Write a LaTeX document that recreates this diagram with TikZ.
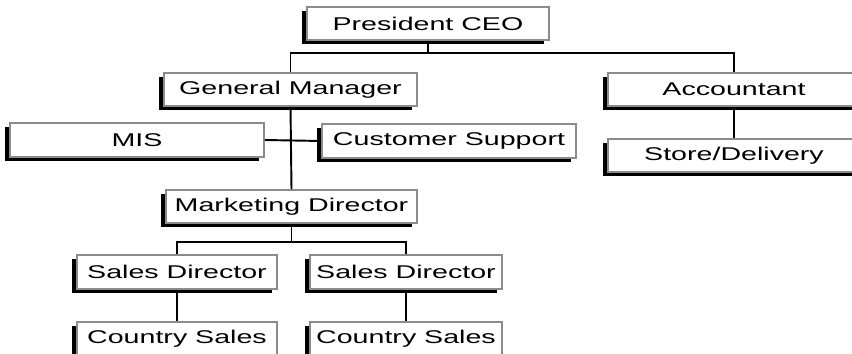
\documentclass[tikz,border=0pt]{standalone}
\usepackage{fontspec}
\setmainfont[FakeStretch=1.55]{Liberation Sans}
\usetikzlibrary{calc,positioning}
\tikzset{
  orgbox/.style={draw=black!45, line width=0.9pt, fill=white, inner sep=0pt,
                 font=\fontsize{10.5}{12}\selectfont},
  link/.style={draw=black, line width=1.1pt}
}
% box with shadow: name, left, top, width, height, text
\newcommand\orgnode[6]{%
  \fill[black] (#2-5, #3+4) rectangle +(#4, #5);
  \node[orgbox, minimum width=#4*0.02cm, minimum height=#5*0.02cm] (#1) at (#2+#4/2, #3+#5/2) {#6};
}

\begin{document}
\begin{tikzpicture}[x=0.02cm, y=-0.02cm]
        \useasboundingbox (0,0) rectangle (852,354);
        \begin{scope}
        \clip (0,0) rectangle (852,354);
        % Top level
        \orgnode{ceo}{307}{7}{242}{33}{President CEO}
        \orgnode{gm}{164}{73}{253}{33}{General Manager}
        \orgnode{acc}{608}{73}{252}{33}{Accountant}
        % Second level
        \orgnode{mis}{10}{123}{254}{34}{MIS}
        \orgnode{cs}{322}{124}{254}{34}{Customer Support}
        \orgnode{store}{608}{139}{252}{33}{Store/Delivery}
        \orgnode{md}{166}{190}{251}{33}{Marketing Director}
        % Sales
        \orgnode{sda}{77}{255}{200}{34}{Sales Director}
        \orgnode{sdb}{310}{255}{192}{34}{Sales Director}
        \orgnode{csa}{77}{322}{200}{34}{Country Sales}
        \orgnode{csb}{310}{322}{192}{34}{Country Sales}

        % The lines
        \coordinate (ceobar) at ($(ceo.south)+(0,12)$);
        \coordinate (mdbar) at ($(md.south)+(0,18)$);
        \draw[link] (ceo.south) -- (ceobar);
        \draw[link] (gm.north) |- (ceobar) -| (acc.north);
        \draw[link] (acc.south) -- (store.north);
        \draw[link] (gm.south) -- (md.north);
        \draw[link] (mis.east) -- (cs.west);
        \draw[link] (md.south) -- (mdbar);
        \draw[link] (sda.north) |- (mdbar) -| (sdb.north);
        \draw[link] (sda.south) -- (csa.north);
        \draw[link] (sdb.south) -- (csb.north);
        \end{scope}
\end{tikzpicture}
\end{document}
